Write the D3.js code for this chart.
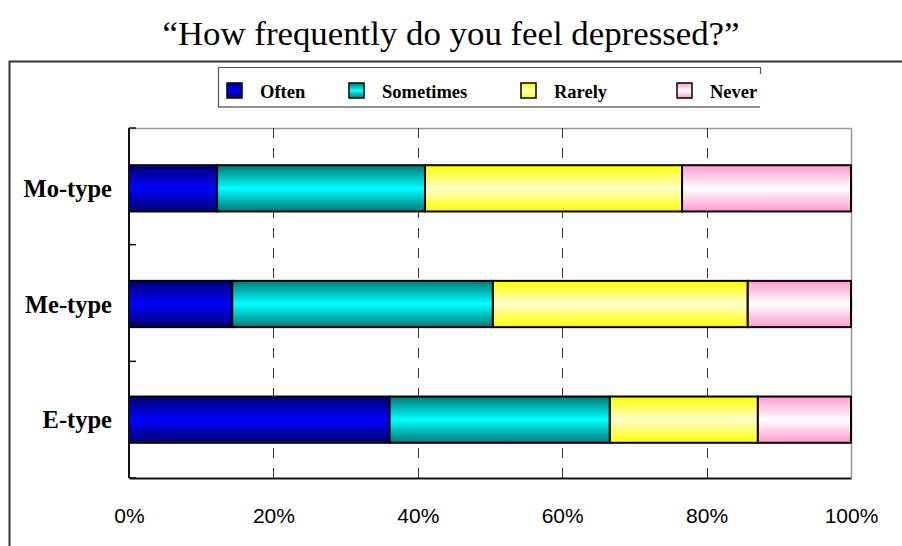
<!DOCTYPE html>
<html><head><meta charset="utf-8">
<script src="https://cdn.jsdelivr.net/npm/d3@7"></script>
<style>body{margin:0;background:#fff}svg{display:block}</style>
</head><body>
<svg id="c" width="902" height="546"></svg>
<script>
const categories = ["Mo-type", "Me-type", "E-type"];
const seriesNames = ["Often", "Sometimes", "Rarely", "Never"];
const often     = [12.2, 14.3, 36.1];
const sometimes = [28.8, 36.1, 30.5];
const rarely    = [35.6, 35.3, 20.5];
const never     = [23.4, 14.3, 12.9];
const tickValues = [0, 20, 40, 60, 80, 100];
const tickLabels = ["0%", "20%", "40%", "60%", "80%", "100%"];
const titleText = "\u201CHow frequently do you feel depressed?\u201D";

const rows = categories.map((c, i) => ({cat: c, Often: often[i], Sometimes: sometimes[i], Rarely: rarely[i], Never: never[i]}));
const stacked = d3.stack().keys(seriesNames)(rows);

const svg = d3.select("#c");
const W = 902, H = 546;
const plot = {l: 129, r: 851, t: 128, b: 478};

const grads = {
  Often:     ["#000070", "#0000ff", "#000070"],
  Sometimes: ["#007777", "#00ffff", "#007777"],
  Rarely:    ["#ffff00", "#ffffcc", "#ffff00"],
  Never:     ["#ff99cc", "#ffffff", "#ff99cc"]
};
const defs = svg.append("defs");
seriesNames.forEach(k => {
  const g = defs.append("linearGradient").attr("id", "g" + k).attr("x1", 0).attr("x2", 0).attr("y1", 0).attr("y2", 1);
  g.append("stop").attr("offset", "0%").attr("stop-color", grads[k][0]);
  g.append("stop").attr("offset", "50%").attr("stop-color", grads[k][1]);
  g.append("stop").attr("offset", "100%").attr("stop-color", grads[k][2]);
});

// title
svg.append("text").attr("x", 451).attr("y", 45).attr("text-anchor", "middle")
  .attr("font-family", "Liberation Serif, serif").attr("font-size", 33)
  .attr("textLength", 577).attr("lengthAdjust", "spacingAndGlyphs")
  .attr("fill", "#000").text(titleText);

// outer frame
svg.append("path").attr("d", `M9.5,${H+5} V61.5 H${W+5}`).attr("fill", "none").attr("stroke", "#333").attr("stroke-width", 2);

const x = d3.scaleLinear().domain([0, 100]).range([plot.l, plot.r]);
const y = d3.scaleBand().domain(categories).range([plot.t + 2.5, plot.b - 0.5]).paddingInner(0.6).paddingOuter(0.3);

// plot border (top/right gray)
svg.append("path").attr("d", `M${plot.l},${plot.t+0.5} H${plot.r+0.5} V${plot.b}`).attr("fill", "none").attr("stroke", "#999").attr("stroke-width", 1.5);

// grid lines
svg.append("g").selectAll("line").data(tickValues.filter(v => v > 0 && v < 100)).join("line")
  .attr("x1", d => Math.round(x(d)) + 0.5).attr("x2", d => Math.round(x(d)) + 0.5)
  .attr("y1", plot.t).attr("y2", plot.b)
  .attr("stroke", "#333").attr("stroke-width", 1).attr("stroke-dasharray", "10,10");

// bars
svg.append("g").selectAll("g").data(stacked).join("g")
  .attr("fill", d => `url(#g${d.key})`)
  .selectAll("rect").data(d => d).join("rect")
  .attr("x", d => x(d[0])).attr("width", d => x(d[1]) - x(d[0]))
  .attr("y", d => y(d.data.cat)).attr("height", y.bandwidth())
  .attr("stroke", "#000").attr("stroke-width", 2);

// y axis with ticks at band boundaries (inward)
const yAxisG = svg.append("g");
yAxisG.append("line").attr("x1", plot.l).attr("x2", plot.l).attr("y1", plot.t).attr("y2", plot.b).attr("stroke", "#111").attr("stroke-width", 2);
const step = (plot.b - plot.t) / categories.length;
const boundaries = d3.range(categories.length + 1).map(i => plot.t + i * step);
yAxisG.selectAll("line.tk").data(boundaries).join("line").attr("class", "tk")
  .attr("x1", plot.l).attr("x2", plot.l + 7).attr("y1", d => d).attr("y2", d => d)
  .attr("stroke", "#111").attr("stroke-width", 1.5);
yAxisG.selectAll("text").data(categories).join("text")
  .attr("x", 112).attr("y", d => y(d) + y.bandwidth() / 2).attr("dy", "0.35em")
  .attr("text-anchor", "end").attr("font-family", "Liberation Serif, serif")
  .attr("font-weight", "bold").attr("font-size", 24.5).text(d => d);

// x axis
const xAxis = d3.axisBottom(x).tickValues(tickValues).tickFormat((d, i) => tickLabels[i]).tickSize(0).tickPadding(30);
const xg = svg.append("g").attr("transform", `translate(0,${plot.b})`).call(xAxis);
xg.select(".domain").attr("stroke", "#111").attr("stroke-width", 2);
xg.selectAll("text").attr("font-family", "Liberation Sans Narrow, Liberation Sans, sans-serif").attr("font-size", 21).attr("fill", "#000");

// legend
const lg = svg.append("g");
lg.append("path").attr("d", "M218.5,107 V67.5 H760.5 V74").attr("fill", "none").attr("stroke", "#555").attr("stroke-width", 1.2);
lg.append("line").attr("x1", 218).attr("x2", 760).attr("y1", 107).attr("y2", 107).attr("stroke", "#222").attr("stroke-width", 1.2);
const legX = [227, 349, 521, 677];
const legItems = lg.selectAll("g.it").data(seriesNames).join("g").attr("class", "it")
  .attr("transform", (d, i) => `translate(${legX[i]},0)`);
legItems.append("rect").attr("x", 0).attr("y", 83).attr("width", 15).attr("height", 15)
  .attr("fill", d => `url(#g${d})`).attr("stroke", "#000").attr("stroke-width", 1.5);
legItems.append("text").attr("x", 33).attr("y", 98).attr("font-family", "Liberation Serif, serif")
  .attr("font-weight", "bold").attr("font-size", 18.5).text(d => d);
</script>
</body></html>
